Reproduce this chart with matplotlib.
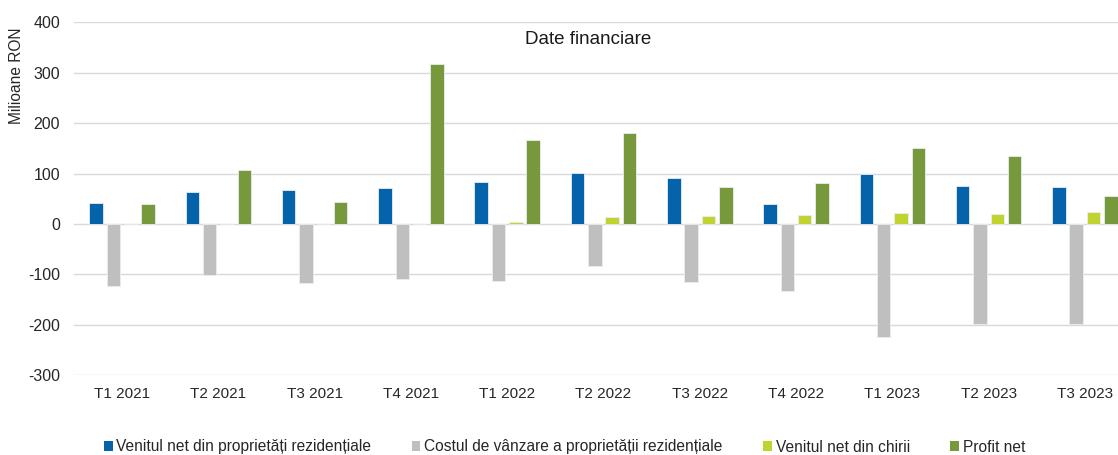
import matplotlib
matplotlib.use("Agg")
import matplotlib.pyplot as plt
import numpy as np
from matplotlib.patches import Patch

plt.rcParams['font.family'] = ['Liberation Sans', 'DejaVu Sans']
plt.rcParams['axes.unicode_minus'] = False

categories = ["T1 2021", "T2 2021", "T3 2021", "T4 2021", "T1 2022", "T2 2022",
              "T3 2022", "T4 2022", "T1 2023", "T2 2023", "T3 2023"]
venit_rezidential = [42, 64, 68, 72, 83, 101, 91, 40, 100, 76, 73]
cost_vanzare = [-124, -101, -117, -110, -113, -83, -116, -133, -225, -198, -198]
venit_chirii = [0, 0, 0, 0, 4, 13, 16, 17, 22, 20, 24]
profit_net = [39, 107, 43, 318, 166, 181, 73, 82, 151, 135, 56]

series_names = ["Venitul net din proprietăți rezidențiale",
                "Costul de vânzare a proprietății rezidențiale",
                "Venitul net din chirii",
                "Profit net"]
colors = ["#0563AC", "#BFBFBF", "#C0D32E", "#77993C"]
yticks = [-300, -200, -100, 0, 100, 200, 300, 400]

W, H = 1118, 455
fig = plt.figure(figsize=(W / 100, H / 100), dpi=100)
ax = fig.add_axes([74 / W, 1 - 375 / H, (1133 - 74) / W, (375 - 22.5) / H])

x = np.arange(len(categories))
offsets = [-0.27, -0.09, 0.09, 0.27]
width = 0.14
data = [venit_rezidential, cost_vanzare, venit_chirii, profit_net]
for vals, off, c in zip(data, offsets, colors):
    ax.bar(x + off, vals, width, color=c, edgecolor="#E8EEF4", linewidth=0.6, zorder=3)

ax.set_xlim(-0.5, len(categories) - 0.5)
ax.set_ylim(-300, 400)
ax.set_yticks(yticks)
ax.set_xticks(x)
ax.set_xticklabels(categories)
ax.tick_params(axis='both', length=0, colors="#262626")
ax.tick_params(axis='y', pad=10, labelsize=11.5)
ax.tick_params(axis='x', pad=9, labelsize=11)
ax.grid(axis='y', color="#D9D9D9", linewidth=1, zorder=0)
for s in ax.spines.values():
    s.set_visible(False)

fig.text(588 / W, 1 - 40 / H, "Date financiare", ha='center', va='center',
         fontsize=13.5, color="#1a1a1a")
fig.text(17 / W, 1 - 76 / H, "Milioane RON", rotation=90, ha='center', va='center',
         fontsize=11.2, color="#262626")

handles = [Patch(facecolor=c, edgecolor='none') for c in colors]
fig.legend(handles, series_names, loc='center left', bbox_to_anchor=(104 / W, 1 - 447 / H),
           ncol=4, frameon=False, fontsize=11.2, handlelength=0.55, handleheight=0.55,
           handletextpad=0.25, columnspacing=2.6, borderaxespad=0, borderpad=0,
           labelcolor="#262626")

fig.savefig("out.png", dpi=100)
